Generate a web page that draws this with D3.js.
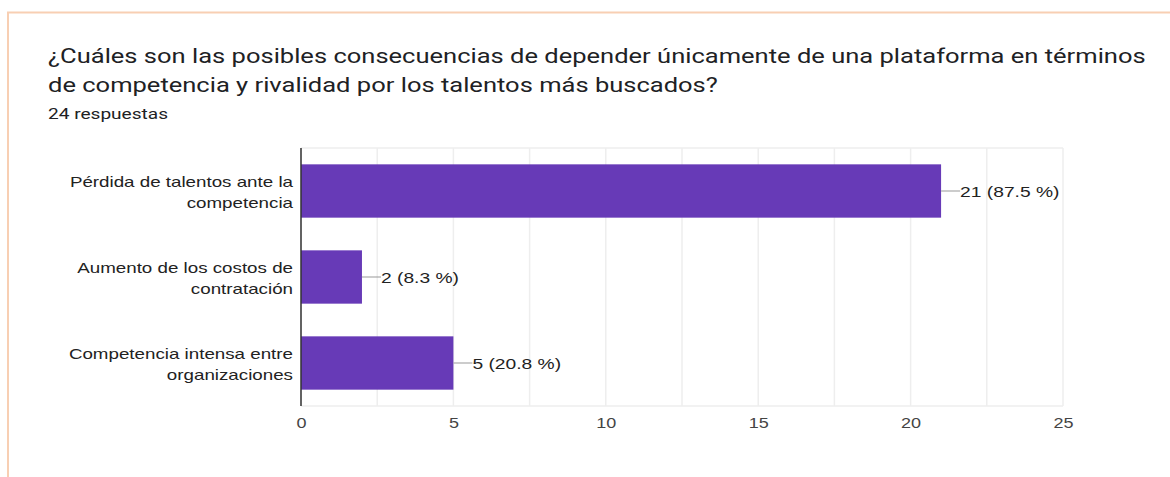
<!DOCTYPE html>
<html><head><meta charset="utf-8">
<script src="https://cdn.jsdelivr.net/npm/d3@7/dist/d3.min.js"></script>
<style>body{margin:0;background:#fff;}svg{display:block;}</style>
</head><body>
<svg id="c" width="1170" height="477"></svg>
<script>
const titleLines = ["¿Cuáles son las posibles consecuencias de depender únicamente de una plataforma en términos", "de competencia y rivalidad por los talentos más buscados?"];
const subtitle = "24 respuestas";
const categories = [["Pérdida de talentos ante la","competencia"],["Aumento de los costos de","contratación"],["Competencia intensa entre","organizaciones"]];
const values = [21, 2, 5];
const percents = ["87.5 %", "8.3 %", "20.8 %"];
const xTicks = [0, 5, 10, 15, 20, 25];
const gridTicks = [0, 2.5, 5, 7.5, 10, 12.5, 15, 17.5, 20, 22.5, 25];

const svg = d3.select("#c");
function stretch(sel, s){
  sel.each(function(){
    const w = this.getComputedTextLength();
    d3.select(this).attr("textLength", w*s).attr("lengthAdjust","spacingAndGlyphs");
  });
}
// card border
svg.append("line").attr("x1",7).attr("x2",1170).attr("y1",12.5).attr("y2",12.5).attr("stroke","#f8cfb3").attr("stroke-width",2);
svg.append("line").attr("x1",8).attr("x2",8).attr("y1",12).attr("y2",477).attr("stroke","#f8cfb3").attr("stroke-width",2);

titleLines.forEach((l,i)=>{
  const t = svg.append("text").attr("x",48).attr("y",63+i*28.5).attr("font-family","Roboto").attr("font-size",21).attr("fill","#202124").text(l);
  stretch(t, 1.215);
});
stretch(svg.append("text").attr("x",48).attr("y",118.5).attr("font-family","Roboto").attr("font-size",15.5).attr("fill","#202124").text(subtitle), 1.23);

const m = {left:301, right:1063, top:148, bottom:406};
const x = d3.scaleLinear().domain([0,25]).range([m.left, m.right]);
const y = d3.scaleBand().domain(d3.range(values.length)).range([m.top, m.bottom]).paddingInner(0.38).paddingOuter(0.19);

const g = svg.append("g");
g.selectAll("line.grid").data(gridTicks).enter().append("line")
  .attr("x1",d=>x(d)).attr("x2",d=>x(d)).attr("y1",m.top).attr("y2",m.bottom)
  .attr("stroke","#eeeeee").attr("stroke-width",1.5);
g.append("line").attr("x1",m.left).attr("x2",m.right).attr("y1",m.top).attr("y2",m.top).attr("stroke","#eeeeee").attr("stroke-width",1.5);
g.append("line").attr("x1",m.left).attr("x2",m.right).attr("y1",m.bottom).attr("y2",m.bottom).attr("stroke","#eeeeee").attr("stroke-width",1.5);

g.selectAll("rect.bar").data(values).enter().append("rect")
  .attr("x",x(0)).attr("y",(d,i)=>y(i)).attr("width",d=>x(d)-x(0)).attr("height",y.bandwidth())
  .attr("fill","#673ab7");

// y axis line
g.append("line").attr("x1",m.left).attr("x2",m.left).attr("y1",m.top).attr("y2",m.bottom).attr("stroke","#333").attr("stroke-width",1.5);

// category labels
categories.forEach((lines,i)=>{
  const cy = y(i)+y.bandwidth()/2;
  lines.forEach((l,j)=>{
    const tx = g.append("text").attr("text-anchor","end").attr("x",m.left-8).attr("y",cy+(j-(lines.length-1)/2)*21+6.5)
      .attr("font-family","Liberation Sans, Arial").attr("font-size",15).attr("fill","#222").text(l);
    stretch(tx, 1.25);
  });
});

// data labels
values.forEach((v,i)=>{
  const cy = y(i)+y.bandwidth()/2;
  g.append("line").attr("x1",x(v)).attr("x2",x(v)+19).attr("y1",cy).attr("y2",cy).attr("stroke","#999").attr("stroke-width",1);
  const tx = g.append("text").attr("x",x(v)+19).attr("y",cy+6).attr("font-family","Liberation Sans, Arial").attr("font-size",15.5).attr("fill","#222").text(`${v} (${percents[i]})`);
  stretch(tx, 1.24);
});

// x axis tick labels
const ax = d3.axisBottom(x).tickValues(xTicks).tickSize(0).tickPadding(11);
const axg = svg.append("g").attr("transform",`translate(0,${m.bottom})`).call(ax);
axg.select(".domain").remove();
axg.selectAll("text").attr("font-family","Liberation Sans, Arial").attr("font-size",15).attr("fill","#444");
stretch(axg.selectAll("text"), 1.2);
</script>
</body></html>
